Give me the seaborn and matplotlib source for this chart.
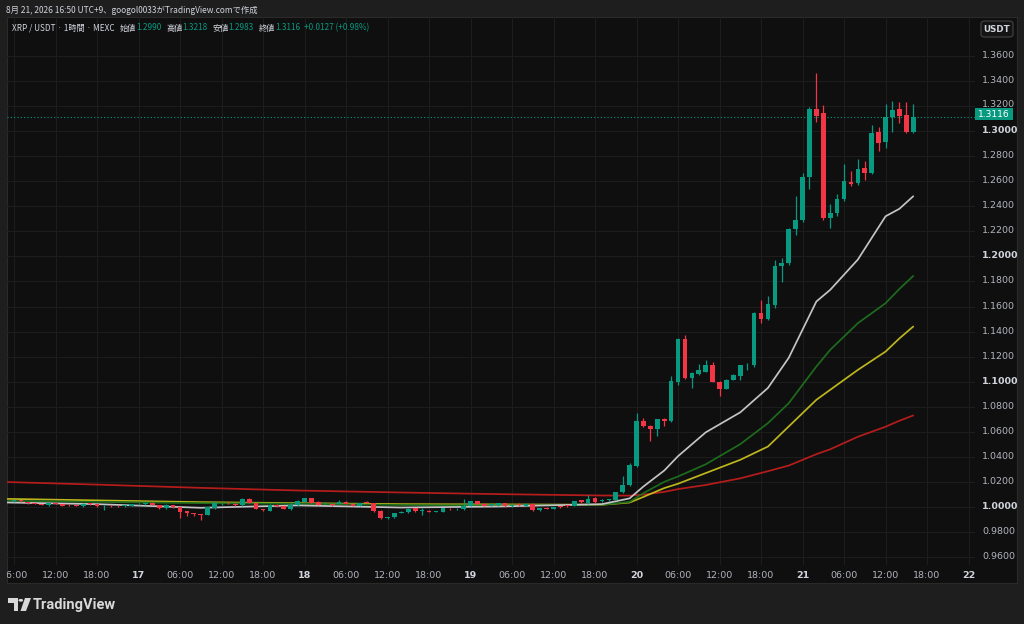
import numpy as np
import pandas as pd
import matplotlib
matplotlib.use("Agg")
import matplotlib.pyplot as plt
import matplotlib.transforms as mtransforms
import seaborn as sns
from matplotlib.patches import Rectangle, FancyBboxPatch, Circle, Polygon

# ---------------- data (1h candles, 16th 06:00 -> 21st 16:00) ----------------
opens = [1.0045, 1.0050, 1.0038, 1.0030, 1.0022, 1.0012, 1.0030, 1.0022, 1.0014, 1.0014,
         1.0004, 1.0024, 1.0022, 1.0004, 1.0008, 1.0008, 1.0006, 1.0009, 1.0020, 1.0022,
         1.0033, 1.0012, 0.9990, 1.0012, 0.9996, 0.9964, 0.9948, 0.9940, 0.9937, 0.9990,
         1.0020, 1.0032, 1.0025, 1.0012, 1.0065, 1.0031, 0.9982, 0.9969, 1.0017, 1.0004,
         0.9985, 1.0012, 1.0043, 1.0070, 1.0043, 1.0028, 1.0020, 1.0025, 1.0043, 1.0022,
         1.0009, 1.0040, 1.0031, 0.9969, 0.9909, 0.9916, 0.9953, 0.9958, 0.9990, 0.9968,
         0.9968, 0.9962, 0.9962, 0.9985, 0.9980, 0.9982, 1.0009, 1.0044, 1.0025, 1.0015,
         1.0014, 1.0030, 1.0005, 1.0020, 1.0009, 1.0025, 0.9972, 0.9993, 0.9983, 1.0003,
         1.0010, 1.0009, 1.0052, 1.0030, 1.0070, 1.0044, 1.0055, 1.0057, 1.0115, 1.0171,
         1.0328, 1.0687, 1.0647, 1.0624, 1.0701, 1.0682, 1.0996, 1.1342, 1.1028, 1.1062,
         1.1081, 1.1129, 1.1001, 1.0943, 1.1015, 1.1049, 1.1129, 1.1129, 1.1552, 1.1501,
         1.1613, 1.1924, 1.1945, 1.2217, 1.2291, 1.2632, 1.3175, 1.3143, 1.2310, 1.2345,
         1.2457, 1.2597, 1.2584, 1.2704, 1.2669, 1.2996, 1.2916, 1.3111, 1.3175, 1.3129,
         1.2990]
highs = [1.0052, 1.0056, 1.0042, 1.0034, 1.0026, 1.0034, 1.0034, 1.0026, 1.0020, 1.0018,
         1.0028, 1.0030, 1.0026, 1.0012, 1.0012, 1.0012, 1.0016, 1.0026, 1.0030, 1.0040,
         1.0036, 1.0015, 1.0020, 1.0015, 0.9999, 0.9968, 0.9952, 0.9944, 1.0000, 1.0049,
         1.0030, 1.0040, 1.0028, 1.0070, 1.0070, 1.0034, 0.9986, 1.0020, 1.0020, 1.0008,
         1.0031, 1.0052, 1.0075, 1.0073, 1.0046, 1.0038, 1.0024, 1.0057, 1.0046, 1.0025,
         1.0035, 1.0050, 1.0034, 0.9972, 0.9918, 0.9955, 0.9970, 0.9990, 0.9994, 0.9990,
         0.9972, 0.9970, 0.9994, 0.9990, 0.9990, 1.0062, 1.0048, 1.0050, 1.0028, 1.0030,
         1.0034, 1.0034, 1.0014, 1.0030, 1.0030, 1.0030, 0.9994, 0.9997, 1.0002, 1.0008,
         1.0014, 1.0048, 1.0056, 1.0097, 1.0080, 1.0060, 1.0065, 1.0120, 1.0243, 1.0350,
         1.0748, 1.0709, 1.0650, 1.0705, 1.0709, 1.1046, 1.1345, 1.1374, 1.1080, 1.1142,
         1.1169, 1.1153, 1.1005, 1.1020, 1.1060, 1.1135, 1.1148, 1.1560, 1.1653, 1.1685,
         1.1972, 1.1986, 1.2230, 1.2483, 1.2664, 1.3196, 1.3467, 1.3209, 1.2419, 1.2499,
         1.2738, 1.2685, 1.2776, 1.2765, 1.3049, 1.3031, 1.3217, 1.3241, 1.3231, 1.3231,
         1.3218]
lows = [1.0040, 1.0040, 1.0026, 1.0020, 1.0012, 1.0008, 1.0024, 1.0005, 1.0008, 1.0006,
        1.0000, 1.0018, 1.0000, 0.9977, 1.0000, 1.0000, 1.0002, 1.0006, 1.0016, 1.0018,
        1.0014, 0.9986, 0.9986, 0.9992, 0.9911, 0.9924, 0.9930, 0.9897, 0.9932, 0.9986,
        1.0015, 1.0022, 1.0008, 1.0008, 1.0028, 0.9982, 0.9968, 0.9965, 1.0000, 0.9980,
        0.9975, 1.0008, 1.0040, 1.0028, 1.0012, 1.0022, 1.0010, 1.0020, 1.0020, 1.0005,
        1.0005, 1.0030, 0.9960, 0.9905, 0.9904, 0.9912, 0.9948, 0.9954, 0.9960, 0.9937,
        0.9958, 0.9958, 0.9958, 0.9976, 0.9976, 0.9978, 1.0005, 1.0020, 1.0005, 1.0010,
        1.0010, 1.0000, 1.0000, 1.0010, 1.0005, 0.9968, 0.9968, 0.9983, 0.9980, 0.9994,
        1.0001, 1.0005, 1.0032, 1.0026, 1.0030, 1.0040, 1.0050, 1.0052, 1.0110, 1.0165,
        1.0320, 1.0640, 1.0530, 1.0568, 1.0647, 1.0675, 1.0975, 1.1020, 1.0953, 1.1055,
        1.1075, 1.0995, 1.0887, 1.0938, 1.1010, 1.1010, 1.1094, 1.1120, 1.1472, 1.1490,
        1.1587, 1.1799, 1.1930, 1.2172, 1.2278, 1.2536, 1.3076, 1.2290, 1.2225, 1.2326,
        1.2440, 1.2563, 1.2571, 1.2611, 1.2655, 1.2844, 1.2868, 1.2996, 1.3068, 1.2985,
        1.2983]
closes = [1.0050, 1.0046, 1.0030, 1.0022, 1.0017, 1.0030, 1.0027, 1.0009, 1.0012, 1.0010,
          1.0025, 1.0022, 1.0004, 1.0008, 1.0004, 1.0004, 1.0012, 1.0022, 1.0024, 1.0033,
          1.0017, 0.9990, 1.0017, 0.9996, 0.9958, 0.9950, 0.9944, 0.9937, 0.9996, 1.0030,
          1.0025, 1.0028, 1.0013, 1.0065, 1.0031, 0.9985, 0.9972, 1.0017, 1.0004, 0.9983,
          1.0012, 1.0049, 1.0070, 1.0031, 1.0017, 1.0034, 1.0014, 1.0043, 1.0025, 1.0009,
          1.0031, 1.0034, 0.9964, 0.9911, 0.9913, 0.9950, 0.9958, 0.9985, 0.9964, 0.9974,
          0.9962, 0.9966, 0.9990, 0.9980, 0.9985, 1.0009, 1.0044, 1.0025, 1.0009, 1.0025,
          1.0030, 1.0004, 1.0010, 1.0014, 1.0025, 0.9972, 0.9990, 0.9987, 0.9998, 0.9998,
          1.0005, 1.0044, 1.0036, 1.0062, 1.0036, 1.0057, 1.0060, 1.0115, 1.0171, 1.0336,
          1.0687, 1.0647, 1.0621, 1.0701, 1.0682, 1.1007, 1.1339, 1.1028, 1.1073, 1.1094,
          1.1129, 1.1001, 1.0943, 1.1015, 1.1055, 1.1129, 1.1135, 1.1547, 1.1501, 1.1618,
          1.1924, 1.1945, 1.2219, 1.2291, 1.2632, 1.3175, 1.3124, 1.2310, 1.2345, 1.2459,
          1.2603, 1.2579, 1.2698, 1.2669, 1.2988, 1.2908, 1.3116, 1.3169, 1.3124, 1.2990,
          1.3116]

# moving averages, sampled at candle positions
ma_pos = [-2, 12, 27, 41, 56, 70, 85, 89, 91, 94, 96, 100, 105, 109, 112, 116, 118, 122, 126, 128, 130]
ma_white = [1.0036, 1.0022, 0.9993, 1.0012, 0.9995, 1.0003, 1.0022, 1.0068, 1.0163, 1.0290, 1.0405,
            1.0595, 1.0755, 1.0950, 1.1190, 1.1640, 1.1733, 1.1975, 1.2320, 1.2380, 1.2480]
ma_green = [1.0049, 1.0040, 1.0030, 1.0025, 1.0015, 1.0012, 1.0017, 1.0040, 1.0110, 1.0200, 1.0243,
            1.0340, 1.0501, 1.0669, 1.0828, 1.1121, 1.1254, 1.1467, 1.1626, 1.1740, 1.1844]
ma_yellow = [1.0065, 1.0052, 1.0038, 1.0030, 1.0022, 1.0020, 1.0017, 1.0035, 1.0080, 1.0150, 1.0185,
             1.0270, 1.0376, 1.0482, 1.0642, 1.0855, 1.0935, 1.1094, 1.1240, 1.1345, 1.1440]
ma_red = [1.0200, 1.0178, 1.0152, 1.0131, 1.0115, 1.0102, 1.0091, 1.0090, 1.0098, 1.0120, 1.0142,
          1.0175, 1.0228, 1.0285, 1.0330, 1.0421, 1.0460, 1.0560, 1.0640, 1.0688, 1.0730]

time_labels = ["06:00", "12:00", "18:00", "17", "06:00", "12:00", "18:00", "18", "06:00", "12:00",
               "18:00", "19", "06:00", "12:00", "18:00", "20", "06:00", "12:00", "18:00", "21",
               "06:00", "12:00", "18:00", "22"]
price_ticks = [0.96, 0.98, 1.00, 1.02, 1.04, 1.06, 1.08, 1.10, 1.12, 1.14, 1.16, 1.18, 1.20,
               1.22, 1.24, 1.26, 1.28, 1.30, 1.32, 1.34, 1.36]
last_price = 1.3116

title_text = "8月 21, 2026 16:50 UTC+9、googol0033がTradingView.comで作成"
legend_parts = [("XRP / USDT · 1時間 · MEXC", "light"), ("始値", "light"), ("1.2990", "val"),
                ("高値", "light"), ("1.3218", "val"), ("安値", "light"), ("1.2983", "val"),
                ("終値", "light"), ("1.3116", "val"), ("+0.0127 (+0.98%)", "val")]

# ---------------- styling ----------------
UP = "#089981"
DOWN = "#F23645"
BG = "#0f0f0f"
OUTER = "#1e1e1e"
GRID = "#1d1d1d"
TXT = "#b2b5be"
LIGHT = "#d1d4dc"

sns.set_theme(style="dark")
FAM = ["Noto Sans CJK JP", "DejaVu Sans"]
plt.rcParams["font.family"] = FAM
plt.rcParams["axes.unicode_minus"] = False

W, H = 1024, 624
fig = plt.figure(figsize=(W / 100, H / 100), dpi=100, facecolor=OUTER)

def fx(x):
    return x / W

def fy(y):
    return 1 - y / H

# pane (background axes, behind everything)
pane = fig.add_axes([fx(7), fy(583), fx(1017) - fx(7), fy(17) - fy(583)], zorder=-5)
pane.set_facecolor(BG)
pane.set_xticks([]); pane.set_yticks([])
for s in pane.spines.values():
    s.set_visible(True)
    s.set_color("#2a2a2a")
    s.set_linewidth(0.8)

ax = fig.add_axes([fx(7), fy(565), fx(975) - fx(7), fy(17) - fy(565)], zorder=1)
ax.patch.set_alpha(0)
for s in ax.spines.values():
    s.set_visible(False)

n = len(opens)
xs = np.arange(n)
o = np.array(opens); c = np.array(closes); hi = np.array(highs); lo = np.array(lows)
cols = np.where(c >= o, UP, DOWN)

# grid
tick_pos = np.arange(len(time_labels)) * 6
for tp in tick_pos:
    ax.axvline(tp, color=GRID, lw=0.8, zorder=0)
for pt in price_ticks:
    ax.axhline(pt, color=GRID, lw=0.8, zorder=0)

# MA lines via seaborn
ma_df = pd.DataFrame({"pos": ma_pos, "white": ma_white, "green": ma_green,
                      "yellow": ma_yellow, "red": ma_red})
for name, colr in [("red", "#b71c1c"), ("yellow", "#bdb61c"), ("green", "#1d6b1d"), ("white", "#c4c4c4")]:
    sns.lineplot(data=ma_df, x="pos", y=name, ax=ax, color=colr, linewidth=1.25, zorder=2,
                 estimator=None, sort=True)

# candles
ax.vlines(xs, lo, hi, colors=cols, linewidth=0.9, zorder=3)
body = np.maximum(np.abs(c - o), 0.0007)
ax.bar(xs, body, bottom=np.minimum(o, c), width=0.68, color=cols, linewidth=0, zorder=4)

# last price line
ax.axhline(last_price, color=UP, lw=0.8, ls=(0, (1, 2)), zorder=1)

# limits: 1.36 at y=56 px, 0.96 at y=557 px
ppx = 0.40 / 501.0
ax.set_ylim(0.96 - (565 - 557) * ppx, 1.36 + (56 - 17) * ppx)
ax.set_xlim((7 - 14) / 6.917, (975 - 14) / 6.917)

# axes ticks
ax.set_xlabel(""); ax.set_ylabel("")
ax.set_xticks(tick_pos)
ax.set_xticklabels(time_labels)
ax.tick_params(axis="x", length=0, pad=4, labelsize=6.8, colors=TXT)
for lab in ax.get_xticklabels():
    lab.set_family("DejaVu Sans")
    lab.set_clip_on(True)
    lab.set_clip_box(pane.bbox)
    if ":" not in lab.get_text():
        lab.set_fontweight("bold")
        lab.set_color(LIGHT)
ax.yaxis.tick_right()
ax.set_yticks(price_ticks)
ax.set_yticklabels([f"{v:.4f}" for v in price_ticks])
ax.tick_params(axis="y", length=0, pad=5, labelsize=6.8, colors=TXT)
for lab, v in zip(ax.get_yticklabels(), price_ticks):
    lab.set_family("DejaVu Sans")
    up_px = 3.0 if abs(v - 1.32) < 1e-6 else 1.5
    lab.set_transform(lab.get_transform() +
                      mtransforms.ScaledTranslation(0, up_px / 100, fig.dpi_scale_trans))
    if abs(v * 10 - round(v * 10)) < 1e-6:
        lab.set_fontweight("bold")
        lab.set_color(LIGHT)

# last price tag
fig.patches.append(Rectangle((fx(975), fy(120)), fx(1013) - fx(975), fy(108.5) - fy(120),
                             transform=fig.transFigure, facecolor=UP, edgecolor="none", zorder=5))
fig.text(fx(994), fy(114.5), f"{last_price:.4f}", color="white", fontsize=6.6, ha="center",
         va="center", family="DejaVu Sans", zorder=6)

# USDT button
fig.patches.append(FancyBboxPatch((fx(981), fy(37)), fx(1013) - fx(981), fy(21) - fy(37),
                                  boxstyle="round,pad=0,rounding_size=0.004",
                                  transform=fig.transFigure, facecolor="#141414",
                                  edgecolor="#454545", linewidth=0.8, zorder=5))
fig.text(fx(997), fy(29), "USDT", color=LIGHT, fontsize=6.3, ha="center", va="center",
         family="DejaVu Sans", fontweight="bold", zorder=6)

# title
fig.text(fx(6), fy(10), title_text, color=LIGHT, fontsize=6.0, ha="left", va="center")

# legend line
r = fig.canvas.get_renderer()
x = 12.0
for i, (s, kind) in enumerate(legend_parts):
    if i > 0 and kind == "light":
        x += 5.0
    if i > 0 and s.startswith("+"):
        x += 4.0
    t = fig.text(fx(x), fy(28), s, color=(LIGHT if kind == "light" else UP), fontsize=5.9,
                 ha="left", va="center")
    bb = t.get_window_extent(renderer=r)
    x += bb.width

# TradingView logo
logo_col = "#d9d9d9"
fig.patches.append(Polygon([(fx(8), fy(598)), (fx(17.5), fy(598)), (fx(17.5), fy(611)),
                            (fx(13.5), fy(611)), (fx(13.5), fy(602.5)), (fx(8), fy(602.5))],
                           closed=True, transform=fig.transFigure, facecolor=logo_col,
                           edgecolor="none"))
fig.patches.append(Circle((fx(20.8), fy(600.3)), 2.3 / W, transform=fig.transFigure,
                          facecolor=logo_col, edgecolor="none"))
fig.patches.append(Polygon([(fx(25), fy(598)), (fx(31), fy(598)), (fx(26), fy(611)),
                            (fx(20.5), fy(611))], closed=True, transform=fig.transFigure,
                           facecolor=logo_col, edgecolor="none"))
fig.text(fx(33), fy(604.5), "TradingView", color=logo_col, fontsize=10.5, ha="left",
         va="center", family=["Roboto", "DejaVu Sans"], fontweight="bold")

fig.savefig("out.png", dpi=100, facecolor=OUTER)
